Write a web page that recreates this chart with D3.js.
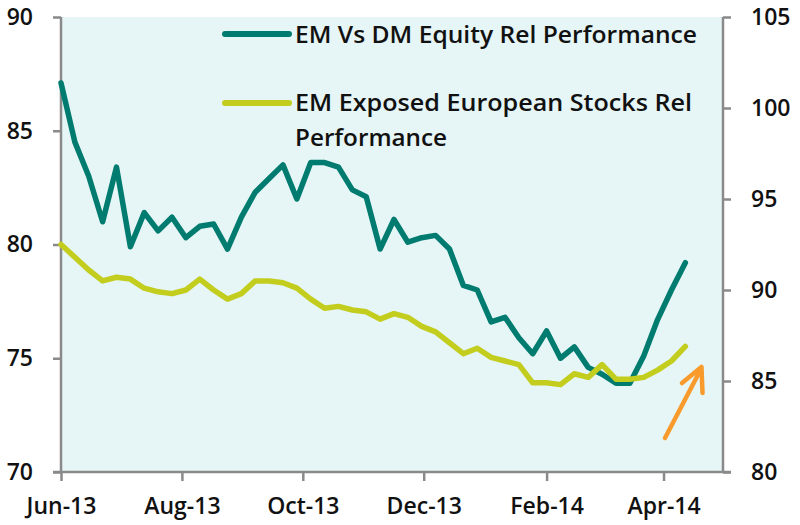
<!DOCTYPE html>
<html>
<head>
<meta charset="utf-8">
<script src="https://cdn.jsdelivr.net/npm/d3@7"></script>
<style>
  html, body { margin: 0; padding: 0; background: #ffffff; }
  svg { display: block; }
  text { font-family: "Open Sans", sans-serif; font-weight: 600; fill: #111; }
</style>
</head>
<body>
<svg id="chart" width="800" height="525"></svg>
<script>
// ---- data ----
const dates = [
  "2013-06-01","2013-06-08","2013-06-15","2013-06-22","2013-06-29",
  "2013-07-06","2013-07-13","2013-07-20","2013-07-27",
  "2013-08-03","2013-08-10","2013-08-17","2013-08-24","2013-08-31",
  "2013-09-07","2013-09-14","2013-09-21","2013-09-28",
  "2013-10-05","2013-10-12","2013-10-19","2013-10-26",
  "2013-11-02","2013-11-09","2013-11-16","2013-11-23","2013-11-30",
  "2013-12-07","2013-12-14","2013-12-21","2013-12-28",
  "2014-01-04","2014-01-11","2014-01-18","2014-01-25",
  "2014-02-01","2014-02-08","2014-02-15","2014-02-22",
  "2014-03-01","2014-03-08","2014-03-15","2014-03-22","2014-03-29",
  "2014-04-05","2014-04-12"
];
// EM Vs DM Equity Rel Performance (left axis)
const emVsDm = [
  87.1, 84.5, 83.0, 81.0, 83.4, 79.9, 81.4, 80.6, 81.2, 80.3, 80.8, 80.9,
  79.8, 81.2, 82.3, 82.9, 83.5, 82.0, 83.6, 83.6, 83.4, 82.4, 82.1, 79.8,
  81.1, 80.1, 80.3, 80.4, 79.8, 78.2, 78.0, 76.6, 76.8, 75.9, 75.2, 76.2,
  75.0, 75.5, 74.6, 74.3, 73.9, 73.9, 75.1, 76.7, 78.0, 79.2
];
// EM Exposed European Stocks Rel Performance (right axis)
const emExposed = [
  92.5, 91.8, 91.1, 90.5, 90.7, 90.6, 90.1, 89.9, 89.8, 90.0, 90.6, 90.0,
  89.5, 89.8, 90.5, 90.5, 90.4, 90.1, 89.5, 89.0, 89.1, 88.9, 88.8, 88.4,
  88.7, 88.5, 88.0, 87.7, 87.1, 86.5, 86.8, 86.3, 86.1, 85.9, 84.9, 84.9,
  84.8, 85.4, 85.2, 85.9, 85.1, 85.1, 85.2, 85.6, 86.1, 86.9
];
const xTickDates = ["2013-06-01","2013-08-01","2013-10-01","2013-12-01","2014-02-01","2014-04-01"];
const xTickLabels = ["Jun-13","Aug-13","Oct-13","Dec-13","Feb-14","Apr-14"];
const leftTicks = [70, 75, 80, 85, 90];
const rightTicks = [80, 85, 90, 95, 100, 105];
const seriesNames = ["EM Vs DM Equity Rel Performance", "EM Exposed European Stocks Rel Performance"];

// ---- layout ----
const svg = d3.select("#chart");
const L = 61, R = 723, T = 17, B = 472;
const parse = d3.utcParse("%Y-%m-%d");
const x = d3.scaleUtc().domain([parse("2013-06-01"), parse("2014-05-01")]).range([L, R]);
const yL = d3.scaleLinear().domain([70, 90]).range([B, T]);
const yR = d3.scaleLinear().domain([80, 105]).range([B, T]);

const teal = "#007b70", lime = "#c3cd1e", axisCol = "#8a8a8a", orange = "#f99b2c";

svg.append("rect").attr("x", L).attr("y", T).attr("width", R - L).attr("height", B - T)
  .attr("fill", "#e6f5f5");

// axes
const gL = svg.append("g").attr("transform", `translate(${L},0)`)
  .call(d3.axisLeft(yL).tickValues(leftTicks).tickSize(8).tickPadding(20).tickFormat(d3.format("d")));
const gR = svg.append("g").attr("transform", `translate(${R},0)`)
  .call(d3.axisRight(yR).tickValues(rightTicks).tickSize(8).tickPadding(20).tickFormat(d3.format("d")));
const gB = svg.append("g").attr("transform", `translate(0,${B})`)
  .call(d3.axisBottom(x).tickValues(xTickDates.map(parse)).tickSize(9).tickPadding(17)
    .tickFormat((d, i) => xTickLabels[i]));
[gL, gR, gB].forEach(g => {
  g.select(".domain").attr("stroke", axisCol).attr("stroke-width", 2.5);
  g.selectAll(".tick line").attr("stroke", axisCol).attr("stroke-width", 2.5);
  g.selectAll(".tick text").attr("font-family", "Open Sans, sans-serif")
    .attr("font-weight", 600).attr("font-size", 23).attr("fill", "#111");
});
gB.select(".domain").attr("d", `M${L - 8},0H${R + 8}`);
gL.select(".domain").attr("d", `M0,${T}V${B}`);
gR.select(".domain").attr("d", `M0,${T}V${B}`);

// lines
const lineL = d3.line().x((d, i) => x(parse(dates[i]))).y(d => yL(d));
const lineR = d3.line().x((d, i) => x(parse(dates[i]))).y(d => yR(d));
svg.append("path").datum(emVsDm).attr("d", lineL).attr("fill", "none")
  .attr("stroke", teal).attr("stroke-width", 5.5).attr("stroke-linejoin", "round").attr("stroke-linecap", "round");
svg.append("path").datum(emExposed).attr("d", lineR).attr("fill", "none")
  .attr("stroke", lime).attr("stroke-width", 5.5).attr("stroke-linejoin", "round").attr("stroke-linecap", "round");

// legend
const leg = svg.append("g");
leg.append("line").attr("x1", 225).attr("x2", 289).attr("y1", 34).attr("y2", 34)
  .attr("stroke", teal).attr("stroke-width", 6).attr("stroke-linecap", "round");
leg.append("line").attr("x1", 225).attr("x2", 289).attr("y1", 103).attr("y2", 103)
  .attr("stroke", lime).attr("stroke-width", 6).attr("stroke-linecap", "round");
leg.append("text").attr("x", 295).attr("y", 43).attr("font-size", 24)
  .attr("textLength", 402).attr("lengthAdjust", "spacingAndGlyphs").text(seriesNames[0]);
leg.append("text").attr("x", 295).attr("y", 111).attr("font-size", 24)
  .attr("textLength", 397).attr("lengthAdjust", "spacingAndGlyphs").text("EM Exposed European Stocks Rel");
leg.append("text").attr("x", 295).attr("y", 146).attr("font-size", 24)
  .attr("textLength", 152).attr("lengthAdjust", "spacingAndGlyphs").text("Performance");

// orange arrow annotation
svg.append("path").attr("d", "M665,438L701.5,368M682,383L701.5,367L702.5,393")
  .attr("fill", "none").attr("stroke", orange).attr("stroke-width", 4.5)
  .attr("stroke-linecap", "round").attr("stroke-linejoin", "round");
</script>
</body>
</html>
